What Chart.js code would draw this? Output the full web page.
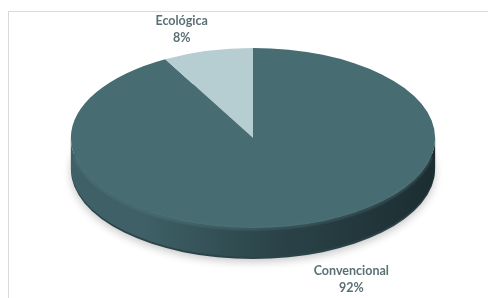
<!DOCTYPE html>
<html>
<head>
<meta charset="utf-8">
<script src="https://cdn.jsdelivr.net/npm/chart.js@4.4.1/dist/chart.umd.min.js"></script>
<style>
    html, body { margin: 0; padding: 0; background: #fff; overflow: hidden; }
    #frame { position: absolute; left: 8px; top: 11px; width: 490px; height: 300px; border: 1px solid #d9d9d9; box-sizing: border-box; }
    #wrap { position: absolute; left: 0; top: 0; width: 488px; height: 298px; }
</style>
</head>
<body>
<div id="frame"></div>
<div id="wrap"><canvas id="pieChart" width="488" height="298"></canvas></div>
<script>
const categories = ['Convencional', 'Ecológica'];
const shares = [92, 8];
const topColors = ['#476d73', '#b6cdd2'];
const sideColors = [['#3e6066', '#2b4449', '#1c2d31'], ['#8fa9ae', '#7f979c', '#6c8388']];

// tilt of the 3d disc: stretch sideways, squash vertically, and a rim depth
const tilt = { sx: 1.32, sy: 0.652, depth: 29 };
// where each label sits relative to the edge point of its slice
const labelShift = [[53, 25], [-26, -22]];

function proj(arc, a, drop) {
    return {
        x: arc.x + Math.cos(a) * arc.outerRadius * tilt.sx,
        y: arc.y + Math.sin(a) * arc.outerRadius * tilt.sy + (drop || 0)
    };
}

function ellipsePath(ctx, arc, a0, a1, drop, ccw) {
    ctx.ellipse(arc.x, arc.y + drop, arc.outerRadius * tilt.sx, arc.outerRadius * tilt.sy, 0, a0, a1, ccw);
}

const pie3d = {
    id: 'pie3d',
    beforeDatasetsDraw(chart) {
        const ctx = chart.ctx;
        const arcs = chart.getDatasetMeta(0).data;
        const first = arcs[0];
        const rx = first.outerRadius * tilt.sx;
        const d = tilt.depth;

        // soft shadow under the disc
        ctx.save();
        ctx.beginPath();
        ellipsePath(ctx, first, 0, Math.PI * 2, d + 2, false);
        ctx.shadowColor = 'rgba(0,0,0,0.22)';
        ctx.shadowBlur = 9;
        ctx.shadowOffsetY = 3;
        ctx.fillStyle = '#2b4449';
        ctx.fill();
        ctx.restore();

        // rim, only the front half is visible
        arcs.forEach((arc, i) => {
            const pieces = [];
            for (let k = -1; k <= 1; k++) {
                const lo = Math.max(arc.startAngle, k * Math.PI * 2);
                const hi = Math.min(arc.endAngle, k * Math.PI * 2 + Math.PI);
                if (hi > lo) pieces.push([lo, hi]);
            }
            pieces.forEach(([lo, hi]) => {
                const g = ctx.createLinearGradient(arc.x - rx, 0, arc.x + rx, 0);
                g.addColorStop(0, sideColors[i][0]);
                g.addColorStop(0.2, sideColors[i][0]);
                g.addColorStop(0.55, sideColors[i][1]);
                g.addColorStop(1, sideColors[i][2]);
                ctx.beginPath();
                ellipsePath(ctx, arc, lo, hi, 0, false);
                ellipsePath(ctx, arc, hi, lo, d, true);
                ctx.closePath();
                ctx.fillStyle = g;
                ctx.fill();
            });
        });

        // top face
        arcs.forEach((arc, i) => {
            ctx.beginPath();
            ctx.moveTo(arc.x, arc.y);
            ellipsePath(ctx, arc, arc.startAngle, arc.endAngle, 0, false);
            ctx.closePath();
            ctx.fillStyle = topColors[i];
            ctx.fill();
        });

        // soft bevel along the front edge of the top
        ctx.save();
        ctx.beginPath();
        ellipsePath(ctx, first, 0.2, Math.PI - 0.2, 1, false);
        ctx.strokeStyle = 'rgba(110,150,156,0.35)';
        ctx.lineWidth = 2;
        ctx.filter = 'blur(0.8px)';
        ctx.stroke();
        ctx.restore();

        // labels
        ctx.save();
        ctx.font = 'bold 12.5px Lato, "Open Sans", sans-serif';
        ctx.fillStyle = '#5b7075';
        ctx.textAlign = 'center';
        ctx.textBaseline = 'middle';
        const total = shares.reduce((s, v) => s + v, 0);
        arcs.forEach((arc, i) => {
            const mid = (arc.startAngle + arc.endAngle) / 2;
            const drop = Math.sin(mid) > 0 ? d : 0;
            const p = proj(arc, mid, drop);
            const lx = p.x + labelShift[i][0];
            const ly = p.y + labelShift[i][1];
            ctx.fillText(categories[i], lx, ly - 8);
            ctx.fillText(Math.round(shares[i] / total * 100) + '%', lx, ly + 9);
        });
        ctx.restore();
        return false;
    }
};

new Chart(document.getElementById('pieChart'), {
    type: 'pie',
    data: {
        labels: categories,
        datasets: [{ data: shares, backgroundColor: topColors, borderWidth: 0 }]
    },
    options: {
        responsive: false,
        animation: false,
        layout: { padding: { left: 18, right: 0, top: 0, bottom: 22 } },
        plugins: { legend: { display: false }, tooltip: { enabled: false } }
    },
    plugins: [pie3d]
});
</script>
</body>
</html>
